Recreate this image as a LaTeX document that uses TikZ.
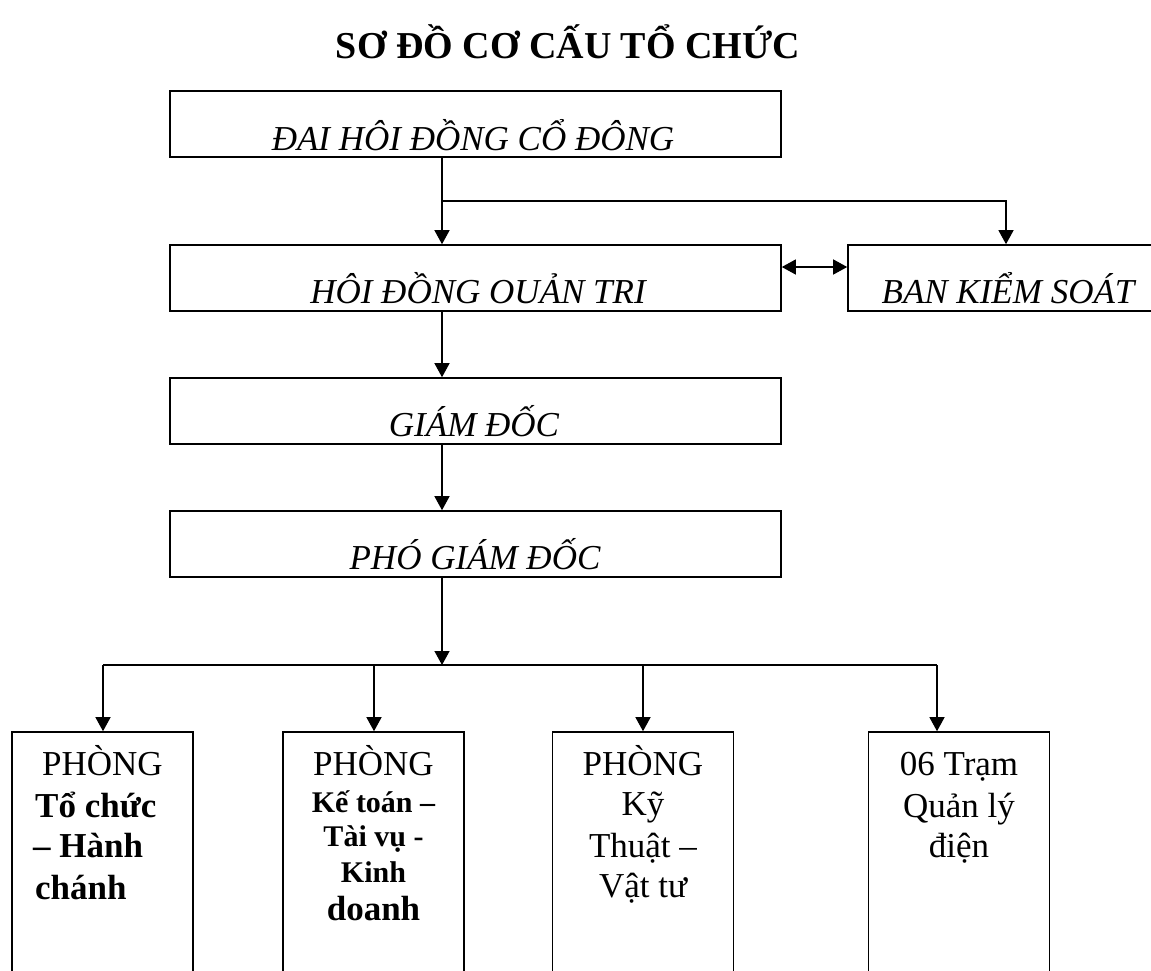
\documentclass[tikz,border=0pt]{standalone}
\usepackage{fontspec}
\setmainfont{Liberation Serif}
\usetikzlibrary{arrows.meta}
\begin{document}
\begin{tikzpicture}[x=1pt,y=-1pt,
  box/.style={draw, line width=1.6pt, rectangle, inner sep=0pt},
  topbox/.style={box, minimum width=611pt, minimum height=66pt},
  lowbox/.style={box, minimum width=181pt, minimum height=268pt},
  conn/.style={line width=1.3pt},
  arr/.style={conn, -{Triangle[width=15pt,length=14pt]}},
  darr/.style={conn, {Triangle[width=15pt,length=14pt]}-{Triangle[width=15pt,length=14pt]}},
  lbl/.style={inner sep=0pt, anchor=base},
  lblw/.style={inner sep=0pt, anchor=base west},
  ttl/.style={lbl, font=\fontsize{38}{45}\selectfont\bfseries},
  itl/.style={lbl, font=\fontsize{35}{40}\selectfont\itshape},
  rg/.style={font=\fontsize{35}{41}\selectfont},
  bd/.style={font=\fontsize{35}{41}\selectfont\bfseries},
  sbd/.style={font=\fontsize{30}{35}\selectfont\bfseries}]
\useasboundingbox (0,0) rectangle (1151,970);
\clip (0,0) rectangle (1151,970);

% title
\node[ttl] (title) at (568,58) {SƠ ĐỒ CƠ CẤU TỔ CHỨC};

% upper boxes
\node[topbox] (b1) at (475.5,124) {};
\node[topbox] (b2) at (475.5,278) {};
\node[topbox] (b3) at (475.5,411) {};
\node[topbox] (b4) at (475.5,544) {};
\node[box, minimum width=320pt, minimum height=66pt] (ban) at (1008,278) {};

\node[itl] (t1) at (473,150) {ĐAI HÔI ĐỒNG CỔ ĐÔNG};
\node[itl] (t2) at (478,303) {HÔI ĐỒNG OUẢN TRI};
\node[itl] (t3) at (474,436) {GIÁM ĐỐC};
\node[itl] (t4) at (475,569) {PHÓ GIÁM ĐỐC};
\node[itl] (tb) at (1008,303) {BAN KIỂM SOÁT};

% lower boxes
\node[lowbox] (pA) at (102.5,866) {};
\node[lowbox] (pB) at (373.5,866) {};
\node[lowbox] (pC) at (643,866) {};
\node[lowbox] (pD) at (959,866) {};

% box A
\node[lbl, rg] (a1) at (102.5,775) {PHÒNG};
\node[lblw, bd] (a2) at (35,817) {Tổ chức};
\node[lblw, bd] (a3) at (33,857) {– Hành};
\node[lblw, bd] (a4) at (35,899) {chánh};
% box B
\node[lbl, rg] (bb1) at (373.5,775) {PHÒNG};
\node[lbl, sbd] (bb2) at (373.5,812) {Kế toán –};
\node[lbl, sbd] (bb3) at (373.5,846) {Tài vụ -};
\node[lbl, sbd] (bb4) at (373.5,882) {Kinh};
\node[lbl, bd] (bb5) at (373.5,920) {doanh};
% box C
\node[lbl, rg] (c1) at (643,775) {PHÒNG};
\node[lbl, rg] (c2) at (643,815) {Kỹ};
\node[lbl, rg] (c3) at (643,857) {Thuật –};
\node[lbl, rg] (c4) at (643,897) {Vật tư};
% box D
\node[lbl, rg] (d1) at (959,775) {06 Trạm};
\node[lbl, rg] (d2) at (959,817) {Quản lý};
\node[lbl, rg] (d3) at (959,857) {điện};

% connectors
\coordinate (j1) at (442,201);
\coordinate (jb) at (1006,201);
\coordinate (dy) at (0,267);
\coordinate (bar) at (0,665);
\coordinate (xA) at (103,0);
\coordinate (xB) at (374,0);
\coordinate (xC) at (643,0);
\coordinate (xD) at (937,0);

\draw[arr] (j1 |- b1.south) -- (j1 |- b2.north);
\draw[arr] (j1) -- (jb) -- (jb |- ban.north);
\draw[darr] (b2.east |- dy) -- (ban.west |- dy);
\draw[arr] (j1 |- b2.south) -- (j1 |- b3.north);
\draw[arr] (j1 |- b3.south) -- (j1 |- b4.north);
\draw[arr] (j1 |- b4.south) -- (j1 |- bar);
\draw[conn] (xA |- bar) -- (xD |- bar);
\draw[arr] (xA |- bar) -- (xA |- pA.north);
\draw[arr] (xB |- bar) -- (xB |- pB.north);
\draw[arr] (xC |- bar) -- (xC |- pC.north);
\draw[arr] (xD |- bar) -- (xD |- pD.north);
\end{tikzpicture}
\end{document}
